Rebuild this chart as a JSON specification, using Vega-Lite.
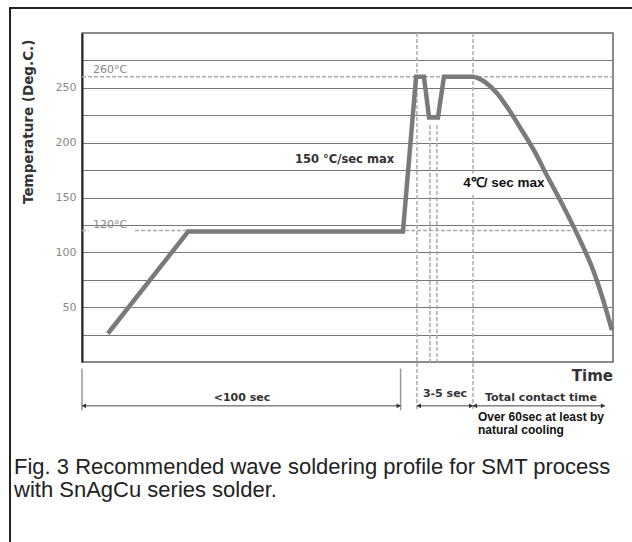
{
  "$schema": "https://vega.github.io/schema/vega-lite/v6.json",
  "width": 531,
  "height": 329,
  "autosize": {"type": "none"},
  "padding": {"left": 82, "top": 33, "right": 19, "bottom": 180},
  "background": "white",
  "config": {"view": {"stroke": "#666", "strokeWidth": 1.5}},
  "datasets": {
    "frame": [{"x": -33.9, "y": 322.7, "x2": 320, "y2": -300}],
    "dashH": [
      {"x": 0, "x2": 250, "y": 260},
      {"x": 0, "x2": 3, "y": 120},
      {"x": 25, "x2": 250, "y": 120}
    ],
    "dashV": [
      {"x": 157.7, "y": 300, "y2": -44},
      {"x": 163.8, "y": 216, "y2": 0},
      {"x": 167.1, "y": 216, "y2": 0},
      {"x": 184.1, "y": 300, "y2": -44}
    ],
    "solidV": [
      {"x": 0, "y": -6, "y2": -44},
      {"x": 150, "y": -6, "y2": -44}
    ],
    "arrows": [
      {"x": 0, "x2": 150, "y": -40},
      {"x": 157.7, "x2": 184.1, "y": -40},
      {"x": 184.1, "x2": 246.2, "y": -40}
    ],
    "box": [{"x": 179, "x2": 218, "y": 172, "y2": 154}],
    "profile": [
      {"x": 12.2, "y": 26},
      {"x": 50, "y": 119},
      {"x": 151.1, "y": 119},
      {"x": 157.3, "y": 260},
      {"x": 161, "y": 260},
      {"x": 163.4, "y": 223},
      {"x": 167.6, "y": 223},
      {"x": 170.4, "y": 260},
      {"x": 185, "y": 260}
    ],
    "cooling": [
      {"x": 185, "y": 260},
      {"x": 190, "y": 255},
      {"x": 195.4, "y": 245},
      {"x": 200.3, "y": 232},
      {"x": 206.2, "y": 214},
      {"x": 214.2, "y": 188},
      {"x": 218.9, "y": 170},
      {"x": 225, "y": 148},
      {"x": 234.5, "y": 111},
      {"x": 240.6, "y": 84},
      {"x": 245.3, "y": 57},
      {"x": 249.5, "y": 29}
    ],
    "greyLabels": [
      {"x": 5.2, "y": 266, "label": "260°C"},
      {"x": 5.2, "y": 125, "label": "120°C"}
    ],
    "rateLabel": [{"x": 100.3, "y": 184, "label": "150 °C/sec max"}],
    "rateLabel2": [{"x": 179.5, "y": 163.5, "label": "4℃/ sec max"}],
    "yTitle": [{"x": -25, "y": 219, "label": "Temperature (Deg.C.)"}],
    "spanLabels": [
      {"x": 75.3, "y": -32.8, "label": "<100 sec"},
      {"x": 170.9, "y": -29.5, "label": "3-5 sec"},
      {"x": 216.1, "y": -32.8, "label": "Total contact time"}
    ],
    "timeLabel": [{"x": 250, "y": -12.8, "label": "Time"}],
    "coolLabel": [
      {"x": 186.4, "y": -50, "label": "Over 60sec at least by"},
      {"x": 186.4, "y": -62, "label": "natural cooling"}
    ],
    "caption": [
      {"x": -32, "y": -95.7, "label": "Fig. 3 Recommended wave soldering profile for SMT process"},
      {"x": -32, "y": -116.7, "label": "with SnAgCu series solder."}
    ]
  },
  "encoding": {
    "x": {
      "field": "x",
      "type": "quantitative",
      "scale": {"domain": [0, 250], "nice": false, "zero": false},
      "axis": {
        "values": [0, 50, 100, 150, 200, 250],
        "grid": true,
        "gridColor": "#777",
        "gridWidth": 1.2,
        "labels": false,
        "ticks": false,
        "domain": true,
        "domainColor": "#222",
        "domainWidth": 2,
        "title": null
      }
    },
    "y": {
      "field": "y",
      "type": "quantitative",
      "scale": {"domain": [0, 300], "nice": false, "zero": false},
      "axis": {
        "values": [25, 50, 75, 100, 125, 150, 175, 200, 225, 250, 275],
        "labelExpr": "(datum.value % 50 == 0 && datum.value < 275) ? datum.label : ''",
        "grid": true,
        "gridColor": "#777",
        "gridWidth": 1.2,
        "ticks": false,
        "labelPadding": 6,
        "labelColor": "#888",
        "labelFont": "DejaVu Sans",
        "labelFontSize": 11,
        "domain": true,
        "domainColor": "#222",
        "domainWidth": 2,
        "title": null
      }
    }
  },
  "layer": [
    {
      "data": {"name": "frame"},
      "mark": {"type": "rect", "fill": "transparent", "stroke": "#222", "strokeWidth": 2},
      "encoding": {"x2": {"field": "x2"}, "y2": {"field": "y2"}}
    },
    {
      "data": {"name": "dashH"},
      "mark": {"type": "rule", "color": "#aaa", "strokeWidth": 1.5, "strokeDash": [4, 2]},
      "encoding": {"x2": {"field": "x2"}}
    },
    {
      "data": {"name": "dashV"},
      "mark": {"type": "rule", "color": "#aaa", "strokeWidth": 1.5, "strokeDash": [4, 2]},
      "encoding": {"y2": {"field": "y2"}}
    },
    {
      "data": {"name": "solidV"},
      "mark": {"type": "rule", "color": "#999", "strokeWidth": 1.5},
      "encoding": {"y2": {"field": "y2"}}
    },
    {
      "data": {"name": "arrows"},
      "mark": {"type": "rule", "color": "#444", "strokeWidth": 1},
      "encoding": {"x2": {"field": "x2"}}
    },
    {
      "data": {"name": "arrows"},
      "mark": {"type": "point", "shape": "triangle-left", "filled": true, "color": "#333", "size": 22, "opacity": 1, "xOffset": 2}
    },
    {
      "data": {"name": "arrows"},
      "mark": {"type": "point", "shape": "triangle-right", "filled": true, "color": "#333", "size": 22, "opacity": 1, "xOffset": -2},
      "encoding": {"x": {"field": "x2", "type": "quantitative", "axis": null}}
    },
    {
      "data": {"name": "box"},
      "mark": {"type": "rect", "fill": "white"},
      "encoding": {"x2": {"field": "x2"}, "y2": {"field": "y2"}}
    },
    {
      "data": {"name": "profile"},
      "mark": {"type": "line", "color": "#7a7a7a", "strokeWidth": 4.5, "strokeJoin": "miter"}
    },
    {
      "data": {"name": "cooling"},
      "mark": {"type": "line", "color": "#7a7a7a", "strokeWidth": 4.5, "interpolate": "monotone"}
    },
    {
      "data": {"name": "greyLabels"},
      "mark": {"type": "text", "align": "left", "baseline": "middle", "font": "DejaVu Sans", "fontSize": 11, "color": "#888"},
      "encoding": {"text": {"field": "label"}}
    },
    {
      "data": {"name": "rateLabel"},
      "mark": {"type": "text", "align": "left", "baseline": "middle", "font": "DejaVu Sans", "fontWeight": "bold", "fontSize": 11.5, "color": "#333"},
      "encoding": {"text": {"field": "label"}}
    },
    {
      "data": {"name": "rateLabel2"},
      "mark": {"type": "text", "align": "left", "baseline": "middle", "font": "Liberation Sans", "fontWeight": "bold", "fontSize": 13.5, "color": "#111"},
      "encoding": {"text": {"field": "label"}}
    },
    {
      "data": {"name": "yTitle"},
      "mark": {"type": "text", "align": "center", "baseline": "middle", "angle": 270, "font": "DejaVu Sans", "fontWeight": "bold", "fontSize": 13.5, "color": "#333"},
      "encoding": {"text": {"field": "label"}}
    },
    {
      "data": {"name": "spanLabels"},
      "mark": {"type": "text", "align": "center", "baseline": "middle", "font": "DejaVu Sans", "fontWeight": "bold", "fontSize": 11, "color": "#333"},
      "encoding": {"text": {"field": "label"}}
    },
    {
      "data": {"name": "timeLabel"},
      "mark": {"type": "text", "align": "right", "baseline": "middle", "font": "DejaVu Sans", "fontWeight": "bold", "fontSize": 15, "color": "#333"},
      "encoding": {"text": {"field": "label"}}
    },
    {
      "data": {"name": "coolLabel"},
      "mark": {"type": "text", "align": "left", "baseline": "middle", "font": "Liberation Sans", "fontWeight": "bold", "fontSize": 12, "color": "#111"},
      "encoding": {"text": {"field": "label"}}
    },
    {
      "data": {"name": "caption"},
      "mark": {"type": "text", "align": "left", "baseline": "middle", "font": "Liberation Sans", "fontSize": 22, "color": "#222"},
      "encoding": {"text": {"field": "label"}}
    }
  ]
}
